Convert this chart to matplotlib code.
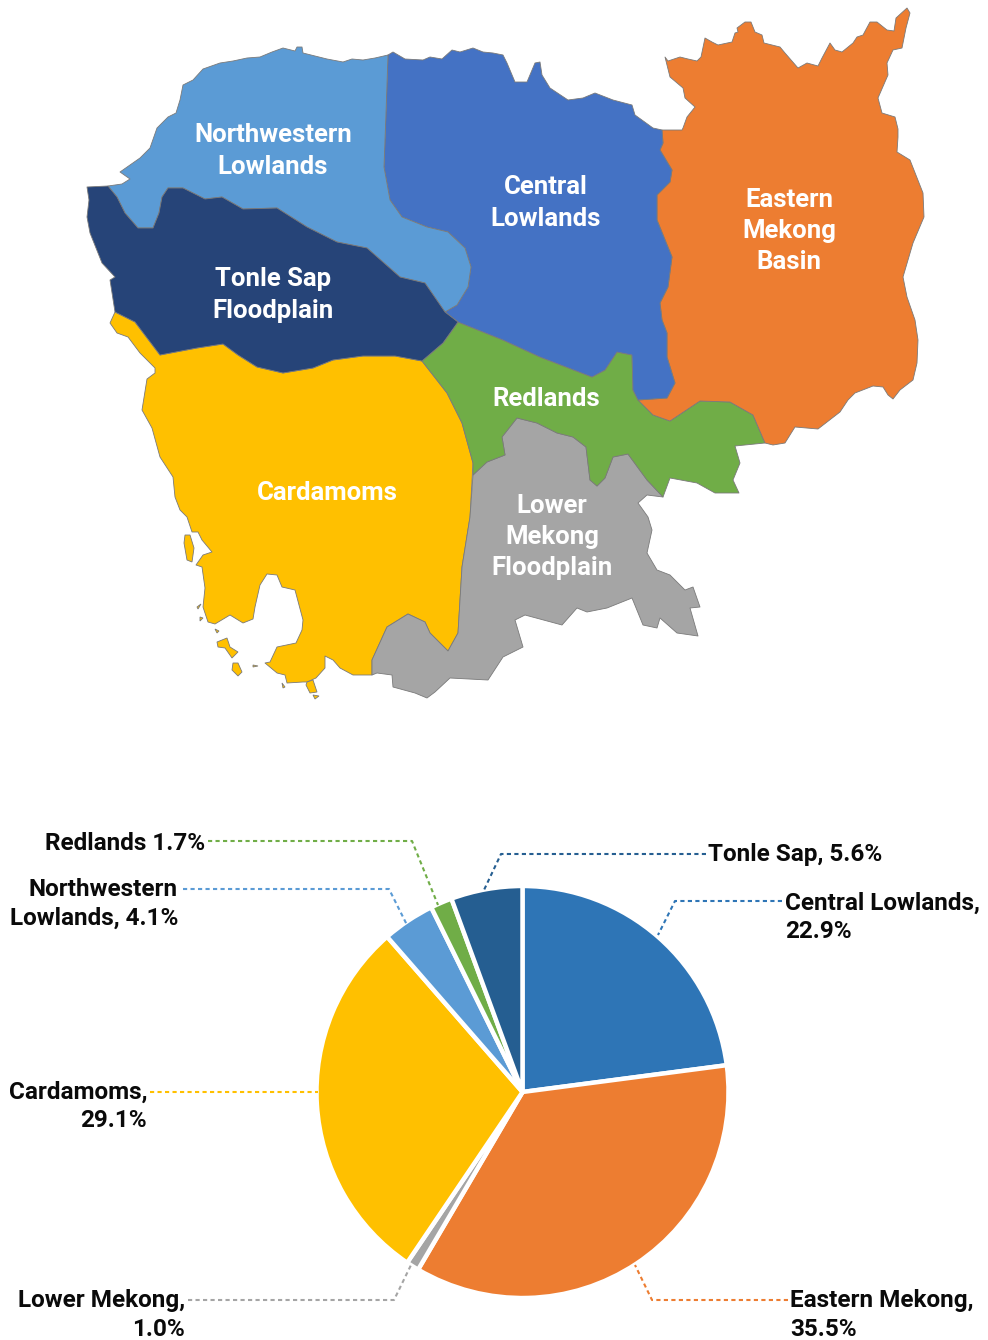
import matplotlib
matplotlib.use("Agg")
import matplotlib.pyplot as plt
from matplotlib.patches import Polygon

W, H = 988, 1340
plt.rcParams['font.family'] = ['Roboto', 'DejaVu Sans']

# ---------- map outlines ----------
northwestern = [(388,55),(375,58),(363,60),(352,59),(343,62),(327,59),(315,56),(303,53),(302,47),(297,47),(295,51),(283,48),(272,52),(260,57),
    (247,58),(233,61),(220,63),(203,69),(193,80),(183,85),(180,100),(176,113),(168,117),(157,128),(150,148),(140,158),(120,172),
    (130,179),(122,184),(108,186),(117,197),(125,213),(138,228),(153,228),(159,213),(162,197),(168,188),(183,188),
    (205,199),(222,197),(243,209),(277,208),(307,227),(337,242),(367,248),(400,277),(425,283),(445,312),(457,305),
    (468,287),(471,267),(465,248),(448,232),(427,227),(402,217),(390,200),(384,167),(386,113)]
tonle_sap = [(87,187),(108,186),(117,197),(125,213),(138,228),(153,228),(159,213),(162,197),(168,188),(183,188),
    (205,199),(222,197),(243,209),(277,208),(307,227),(337,242),(367,248),(400,277),(425,283),(445,312),(458,322),
    (443,343),(422,361),(395,356),(363,356),(333,360),(313,368),(283,373),(257,367),(238,355),(223,344),(197,348),
    (160,355),(135,322),(115,312),(110,280),(115,277),(102,263),(90,233),(87,217),(89,200)]
cardamoms = [(115,312),(110,323),(117,333),(128,337),(140,353),(155,368),(155,373),(147,379),(142,410),(152,428),
    (160,457),(173,477),(175,497),(180,510),(187,517),(192,532),(198,532),(202,540),(212,552),(203,555),(196,565),
    (202,567),(205,588),(203,607),(208,622),(215,624),(230,615),(243,623),(253,619),(255,607),(260,585),(267,574),
    (277,575),(282,587),(295,590),(303,620),(302,630),(296,643),(277,647),(270,662),(265,663),(277,673),(285,675),
    (287,683),(303,682),(307,682),(316,678),(325,668),(325,656),(333,660),(340,668),(353,675),(372,675),(372,660),
    (387,627),(408,614),(425,622),(430,633),(448,651),(458,633),(462,567),(470,517),(473,463),(462,423),(447,393),
    (422,361),(395,356),(363,356),(333,360),(313,368),(283,373),(257,367),(238,355),(223,344),(197,348),(160,355),(135,322)]
cardamom_islands = [
    [(185,535),(190,535),(194,548),(192,562),(187,560),(184,543)],
    [(217,642),(227,638),(230,647),(238,652),(232,658),(225,648),(218,647)],
    [(233,663),(238,663),(242,672),(238,676),(232,670)],
    [(307,682),(313,680),(317,692),(310,693),(306,685)],
    [(313,695),(319,696),(315,699)],
    [(197,607),(201,604),(198,609)],
    [(200,617),(203,618),(200,621)],
    [(215,629),(219,631),(217,633)],
    [(253,665),(258,666),(253,667)],
    [(282,683),(285,687),(283,688)],
]
lower_mekong = [(372,675),(372,660),(387,627),(408,614),(425,622),(430,633),(448,651),(458,633),(462,567),(470,517),
    (473,475),(487,462),(505,455),(502,437),(517,418),(537,423),(557,433),(573,437),(586,447),(590,480),(597,486),
    (605,478),(613,457),(628,454),(647,480),(663,497),(647,495),(638,503),(648,517),(652,530),(647,553),(657,570),
    (670,575),(685,590),(693,587),(700,607),(690,608),(698,636),(677,633),(660,618),(657,628),(643,625),(632,598),
    (607,608),(587,612),(577,608),(562,625),(525,615),(515,620),(523,647),(503,657),(488,680),(450,678),(435,692),
    (427,698),(415,693),(393,687),(392,675),(377,673)]
redlands = [(458,322),(503,340),(540,357),(592,377),(605,370),(617,352),(632,355),(633,390),(638,400),(653,415),
    (670,421),(700,401),(730,402),(753,415),(765,443),(735,446),(740,463),(733,480),(739,493),(715,493),(697,483),
    (670,478),(663,497),(647,480),(628,454),(613,457),(605,478),(597,486),(590,480),(586,447),(573,437),(557,433),
    (537,423),(517,418),(502,437),(505,455),(487,462),(473,475),(473,463),(462,423),(447,393),(422,361),(443,343)]
central = [(388,55),(393,52),(405,59),(423,60),(430,57),(442,59),(452,50),(460,52),(473,48),(483,52),(493,53),(503,55),(507,63),
    (515,82),(527,82),(535,63),(540,62),(542,75),(550,88),(568,100),(583,98),(595,93),(613,100),(632,105),(635,115),
    (653,128),(662,130),(663,143),(660,150),(672,170),(670,182),(657,195),(657,220),(672,257),(668,287),(660,303),
    (662,320),(667,333),(667,357),(675,383),(667,398),(638,400),(633,390),(632,355),(617,352),(605,370),(592,377),
    (540,357),(503,340),(458,322),(445,312),(457,305),(468,287),(471,267),(465,248),(448,232),(427,227),(402,217),
    (390,200),(384,167),(386,113)]
eastern = [(662,130),(682,130),(683,128),(687,117),(695,107),(685,98),(683,88),(670,77),(665,57),(668,61),(680,57),
    (688,59),(697,61),(701,57),(705,38),(712,42),(718,45),(732,42),(735,33),(738,32),(737,28),(745,22),(751,22),(755,32),
    (762,35),(764,43),(780,47),(785,53),(798,68),(807,63),(818,66),(822,58),(830,43),(835,50),(842,52),(853,43),(857,37),
    (863,35),(870,22),(877,22),(887,30),(894,31),(896,18),(907,8),(910,13),(906,28),(902,48),(893,50),(887,63),(888,75),
    (878,98),(882,113),(895,117),(898,129),(898,137),(897,152),(910,160),(923,193),(924,217),(913,243),(903,277),(907,297),
    (915,320),(918,340),(917,363),(913,380),(900,390),(893,399),(888,395),(883,387),(873,386),(855,393),(848,400),(840,412),
    (818,429),(795,427),(785,443),(773,445),(765,443),(753,415),(730,402),(700,401),(670,421),(653,415),(638,400),(667,398),
    (675,383),(667,357),(667,333),(662,320),(660,303),(668,287),(672,257),(657,220),(657,195),(670,182),(672,170),(660,150),(663,143)]

map_regions = [cardamoms, lower_mekong, redlands, eastern, central, northwestern, tonle_sap]
map_colors = ['#FFC000', '#A5A5A5', '#70AD47', '#ED7D31', '#4472C4', '#5B9BD5', '#264478']
map_labels = ['Northwestern\nLowlands', 'Central\nLowlands', 'Eastern\nMekong\nBasin', 'Tonle Sap\nFloodplain',
              'Redlands', 'Cardamoms', 'Lower\nMekong\nFloodplain']
map_label_xy = [(273,151), (546,203), (789,231), (273,295), (546,399), (327,493), (552,537)]

# ---------- pie ----------
pie_names = ['Central Lowlands', 'Eastern Mekong', 'Lower Mekong', 'Cardamoms', 'Northwestern Lowlands', 'Redlands', 'Tonle Sap']
pie_values = [22.9, 35.5, 1.0, 29.1, 4.1, 1.7, 5.6]
pie_colors = ['#2E75B6', '#ED7D31', '#A5A5A5', '#FFC000', '#5B9BD5', '#70AD47', '#255E91']
pie_labels = ['Central Lowlands,\n22.9%', 'Eastern Mekong,\n35.5%', 'Lower Mekong,\n1.0%', 'Cardamoms,\n29.1%',
              'Northwestern\nLowlands, 4.1%', 'Redlands 1.7%', 'Tonle Sap, 5.6%']
label_anchor = [(785,917,'left'), (790,1315,'left'), (185,1315,'right'), (147,1106,'right'),
                (178,904,'right'), (205,843,'right'), (708,854,'left')]
leaders = [[(782,901),(675,901),(658,935)], [(788,1300),(652,1300),(635,1265)], [(188,1300),(394,1300),(411,1265)],
           [(150,1092),(318,1092)], [(183,889),(389,889),(407,925)], [(208,841),(412,841),(438,905)],
           [(706,854),(501,854),(484,890)]]

fig = plt.figure(figsize=(W/100, H/100), dpi=100, facecolor='white')

ax = fig.add_axes([0, 0, 1, 1])
ax.set_xlim(0, W)
ax.set_ylim(H, 0)
ax.axis('off')

for poly, col in zip(map_regions, map_colors):
    ax.add_patch(Polygon(poly, closed=True, facecolor=col, edgecolor='#7a7a7a', linewidth=0.6, joinstyle='round'))
for poly in cardamom_islands:
    ax.add_patch(Polygon(poly, closed=True, facecolor='#FFC000', edgecolor='#7a7a7a', linewidth=0.6))
for txt, (x, y) in zip(map_labels, map_label_xy):
    ax.text(x, y, txt, color='white', fontsize=18.5, fontweight='bold',
            ha='center', va='center', multialignment='center', linespacing=1.37)

cx, cy, r = 522.5, 1092, 206
pax = fig.add_axes([(cx-1.25*r)/W, 1-(cy+1.25*r)/H, 2.5*r/W, 2.5*r/H])
pax.pie(pie_values, colors=pie_colors, startangle=90, counterclock=False,
        wedgeprops=dict(edgecolor='white', linewidth=3.2))
pax.set_xlim(-1.25, 1.25)
pax.set_ylim(-1.25, 1.25)

top = fig.add_axes([0, 0, 1, 1], zorder=5)
top.set_xlim(0, W)
top.set_ylim(H, 0)
top.axis('off')
for pts, col, txt, (x, y, ha) in zip(leaders, pie_colors, pie_labels, label_anchor):
    top.plot([p[0] for p in pts], [p[1] for p in pts], color=col, lw=1.5, ls=(0, (2.0, 1.6)))
    top.text(x, y, txt, color='#0a0a0a', fontsize=17.5, fontweight='bold', ha=ha, va='center',
             multialignment=ha, linespacing=1.3)

fig.savefig('out.png', dpi=100)
